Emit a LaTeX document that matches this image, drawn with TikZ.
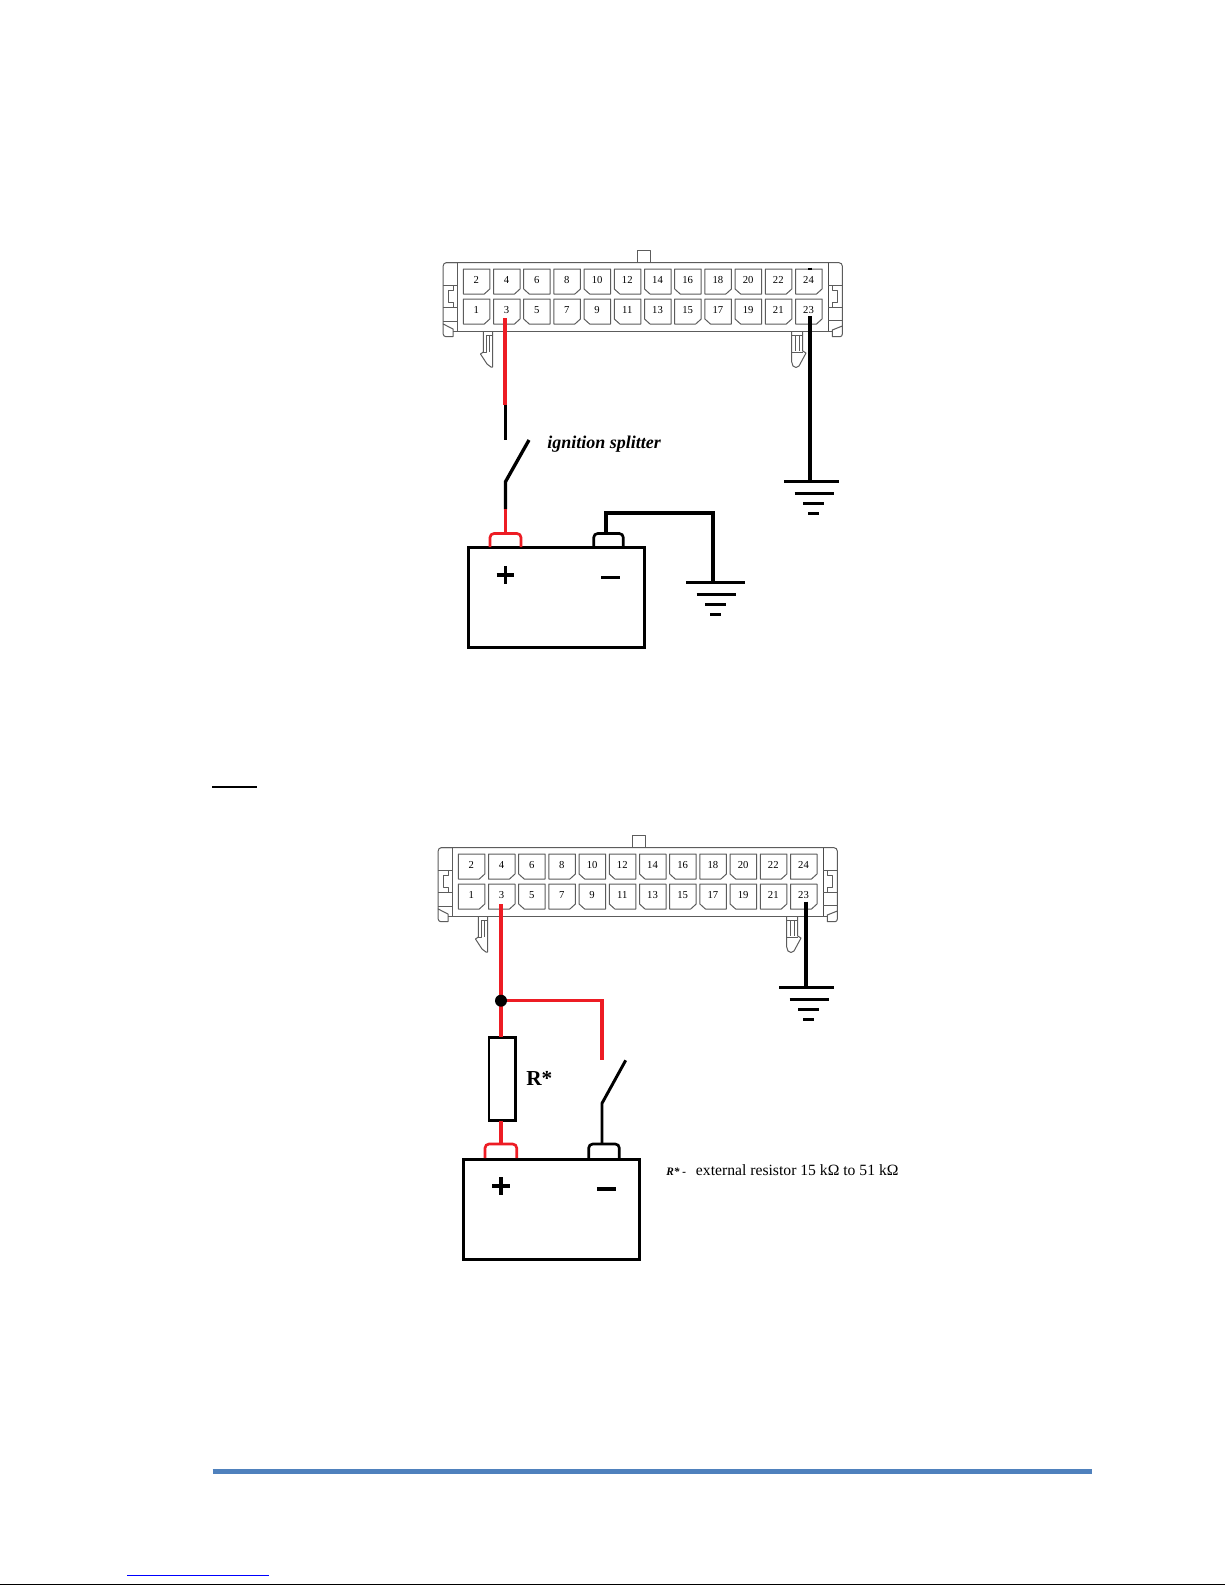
\documentclass[tikz,border=0pt]{standalone}
\usepackage{fontspec}
\setmainfont{Liberation Serif}
\definecolor{wirered}{HTML}{ED1C24}
\definecolor{barblue}{HTML}{4F81BD}
\definecolor{linkblue}{HTML}{0000FF}
\definecolor{housing}{gray}{0.36}
\tikzset{
  house/.style={draw=housing,line width=0.75pt,line join=round},
  housedark/.style={draw=black!70,line width=0.75pt},
  cellnum/.style={font=\fontsize{8}{9}\selectfont,inner sep=0pt},
  blackwire/.style={draw=black,line width=2.5pt,line join=miter},
  redwire/.style={draw=wirered,line width=2.4pt,line join=miter},
  thickwire/.style={draw=black,line width=3.1pt},
  gndbar/.style={draw=black,line width=2.2pt},
  battbox/.style={draw=black,line width=2.3pt,fill=none,inner sep=0pt,outer sep=0pt,minimum width=132pt,minimum height=75pt},
  resbox/.style={draw=black,line width=2.1pt,inner sep=0pt,outer sep=0pt,minimum width=20pt,minimum height=62.5pt},
  label/.style={inner sep=0pt,anchor=base west},
}
% #1 x, #2 y, #3 1 = right chamfer, 0 = left chamfer, #4 text, #5 node name
\newcommand\cellbox[5]{%
  \ifnum#3=1
    \draw[house] (#1,#2) -- ({#1+26.5},#2) -- ({#1+26.5},{#2+20}) -- ({#1+21},{#2+25}) -- (#1,{#2+25}) -- cycle;
  \else
    \draw[house] (#1,#2) -- ({#1+26.5},#2) -- ({#1+26.5},{#2+25}) -- ({#1+5.5},{#2+25}) -- (#1,{#2+20}) -- cycle;
  \fi
  \node[cellnum] (#5) at ({#1+13},{#2+11}) {#4};
}
% #1 dx, #2 dy, #3 name prefix
\newcommand\connector[3]{%
\begin{scope}[shift={(#1,#2)}]
  % tab
  \draw[house] (637,262.7) -- (637,250.7) -- (650,250.7) -- (650,262.7);
  % body
  \draw[house] (457.5,262.7) -- (446,262.7) to[out=180,in=90] (443.2,266) -- (443.2,324);
  \draw[house] (446,262.7) -- (839,262.7) to[out=0,in=90] (842.3,266) -- (842.3,326);
  \draw[house] (453,331) -- (832,331);
  \draw[house] (457.5,262.7) -- (457.5,331);
  \draw[housedark] (828.3,262.7) -- (828.3,331);
  % left end
  \draw[house] (443.2,285) -- (457.5,285) (443.2,307.7) -- (457.5,307.7) (443.2,321) -- (457.5,321);
  \draw[house] (453,285) -- (453,290) -- (448.3,290) -- (448.3,302) -- (453,302) -- (453,307.7);
  \draw[house] (443.2,324) -- (443.2,334) to[out=-90,in=180] (446,336.7) -- (453,336.7) -- (453,329) -- cycle;
  % right end
  \draw[house] (828.3,285.3) -- (842.3,285.3) (828.3,307.3) -- (842.3,307.3) (828.3,320) -- (842.3,320);
  \draw[house] (832.5,285.3) -- (832.5,290) -- (837.5,290) -- (837.5,302) -- (832.5,302) -- (832.5,307.3);
  \draw[house] (842.3,326) -- (842.3,334) to[out=-90,in=0] (840,336.7) -- (832.3,336.7) -- (832.3,330) -- cycle;
  % left latch
  \draw[house] (483.3,331) -- (483.3,352) -- (480.5,354) -- (487,364) -- (491,367) -- (492.7,367) -- (492.7,331);
  \draw[house] (486.7,335) -- (486.7,352) -- (483.3,352) (489.5,335) -- (489.5,352) (486.7,335) -- (492.7,335);
  % right latch
  \draw[house] (791.7,331) -- (791.7,362) -- (793,366) -- (796,367.5) -- (799,366) -- (806,353) -- (802.7,351) -- (802.7,331);
  \draw[house] (791.7,352) -- (802.7,352) (795,335) -- (795,351) (799.5,335) -- (799.5,351) (791.7,335) -- (802.7,335);
  % cells
  \foreach \c/\tn/\tk/\bn/\bk in {0/2/1/1/1,1/4/1/3/1,2/6/0/5/0,3/8/1/7/1,4/10/0/9/0,5/12/0/11/0,6/14/0/13/0,7/16/0/15/1,8/18/1/17/0,9/20/0/19/0,10/22/1/21/1,11/24/1/23/1}{
    \pgfmathsetmacro\cx{463.3+\c*30.2}
    \cellbox{\cx}{269}{\tk}{\tn}{#3t\tn}
    \cellbox{\cx}{299}{\bk}{\bn}{#3b\bn}
  }
\end{scope}}
% ground bars: #1 left x, #2 y of top bar, #3 width of top bar
\newcommand\groundbars[3]{%
  \draw[gndbar] (#1,#2) -- ({#1+#3},#2);
  \draw[gndbar] ({#1+10.5},{#2+12}) -- ({#1+49.5},{#2+12});
  \draw[gndbar] ({#1+19},{#2+22}) -- ({#1+39.5},{#2+22});
  \draw[gndbar] ({#1+24},{#2+32}) -- ({#1+34.5},{#2+32});
}
% terminal: #1 left x, #2 right x, #3 top y, #4 bottom y, #5 colour
\newcommand\terminal[5]{%
  \draw[draw=#5,line width=2pt,rounded corners=3pt] (#1,#4) -- (#1,#3) -- (#2,#3) -- (#2,#4);
}
\newcommand\plusminus[4]{%
  \draw[draw=black,line width=2.7pt] ({#1-8.8},#2) -- ({#1+8.8},#2) (#1,{#2-8.8}) -- (#1,{#2+8.8});
  \draw[draw=black,line width=2.3pt] ({#3-9.6},#4) -- ({#3+9.6},#4);
}
\begin{document}
\begin{tikzpicture}[x=0.75pt,y=-0.75pt]
\useasboundingbox (0,0) rectangle (1225,1585);
\fill[white] (0,0) rectangle (1225,1585);

\connector{0}{0}{u}
\connector{-5}{585}{l}

% ---------- upper diagram
\coordinate (uPin3) at (505.3,318);
\coordinate (uRedEnd) at (505.3,405);
\coordinate (uOpen) at (505.3,440);
\coordinate (uSwTip) at (529,440);
\coordinate (uSwBase) at (505.5,481.7);
\coordinate (uSwRed) at (505.5,509.3);
\coordinate (uPlusTop) at (505.5,533.5);
\coordinate (uPin23) at (810.3,316);
\coordinate (uGnd) at (810.3,481.7);
\coordinate (uNegTop) at (606,533.5);
\coordinate (uNegUp) at (606,513);
\coordinate (uNegRight) at (713,513);
\coordinate (uGnd2) at (713,582.3);

\draw[draw=wirered,line width=3.2pt] (uPin3) -- (uRedEnd);
\draw[blackwire] (uRedEnd) -- (uOpen);
\draw[blackwire] (uSwTip) -- (uSwBase) -- (uSwRed);
\draw[redwire] (uSwRed) -- (uPlusTop);
\draw[thickwire] (uPin23) -- (uGnd);
\draw[draw=black,line width=3pt] (810.3,267.5) -- (810.3,269.5);
\groundbars{784}{481.7}{55}
\draw[draw=black,line width=2.4pt,line join=miter] (uNegTop) -- (uNegUp) -- (uNegRight) -- (uGnd2);
\groundbars{686}{582.3}{58.7}

\node[battbox] (uBatt) at (556.3,597.7) {};
\terminal{490}{521}{533.5}{547}{wirered}
\terminal{593.7}{623.3}{533.5}{547}{black}
\plusminus{505.3}{574.7}{610.8}{577.3}
\node[label,font=\fontsize{13.5}{15}\selectfont\bfseries\itshape] (uText) at (547,448) {ignition splitter};

% ---------- lower section
\coordinate (ruleL) at (212,787);
\coordinate (ruleR) at (257,787);
\draw[draw=black,line width=1.6pt] (ruleL) -- (ruleR);

\coordinate (lPin3) at (501,904.3);
\coordinate (lJ) at (501,1000.7);
\coordinate (lBrCorner) at (602,1000.7);
\coordinate (lBrEnd) at (602,1060);
\coordinate (lSwTip) at (625.7,1060.3);
\coordinate (lSwBase) at (602,1103.3);
\coordinate (lNegTop) at (602,1144);
\coordinate (lPlusTop) at (501,1144);
\coordinate (lPin23) at (806,901.7);
\coordinate (lGnd) at (806,987.7);

\node[resbox] (lR) at (502.3,1079) {};
\draw[redwire] (lPin3) -- (lJ);
\draw[redwire] (lJ) -- (lJ |- lR.north);
\draw[redwire] (lR.south -| lJ) -- (lPlusTop);
\draw[redwire] (lJ) -- (lBrCorner) -- (lBrEnd);
\draw[blackwire,line width=2.2pt] (lSwTip) -- (lSwBase) -- (lNegTop);
\fill[black] (lJ) circle[radius=6];
\draw[thickwire] (lPin23) -- (lGnd);
\groundbars{779}{987.7}{55}

\node[battbox] (lBatt) at (551.8,1209.2) {};
\terminal{485}{516.7}{1144}{1158}{wirered}
\terminal{588.7}{619.3}{1144}{1158}{black}
\plusminus{501}{1186}{606.5}{1189}
\node[label,font=\fontsize{16}{18}\selectfont\bfseries] (lRlabel) at (526,1085) {R*};
\node[label,font=\fontsize{8.5}{10}\selectfont\bfseries\itshape] (lNoteA) at (666,1175.7) {R* -};
\node[label,font=\fontsize{11.75}{14}\selectfont] (lNoteB) at (695.7,1175.7) {external resistor 15 kΩ to 51 kΩ};

% ---------- footer
\coordinate (barL) at (212.6,1471.5);
\coordinate (barR) at (1092,1471.5);
\draw[draw=barblue,line width=3.7pt] (barL) -- (barR);
\coordinate (linkL) at (127,1575.3);
\coordinate (linkR) at (269,1575.3);
\draw[draw=linkblue,line width=0.8pt] (linkL) -- (linkR);
\coordinate (pageL) at (0,1584.5);
\coordinate (pageR) at (1225,1584.5);
\draw[draw=black,line width=1pt] (pageL) -- (pageR);
\end{tikzpicture}
\end{document}
